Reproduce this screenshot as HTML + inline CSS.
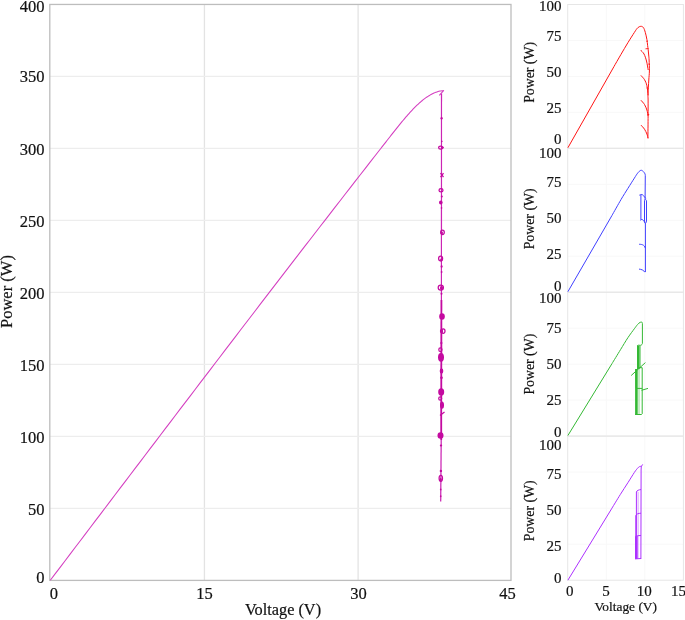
<!DOCTYPE html>
<html><head><meta charset="utf-8"><title>PV curves</title>
<style>html,body{margin:0;padding:0;background:#fff;}body{width:685px;height:620px;overflow:hidden;}svg{display:block;will-change:transform;}text{stroke:#111;stroke-width:0.2px;}</style>
</head><body>
<svg width="685" height="620" viewBox="0 0 685 620"><g stroke="#e3e3e3" stroke-width="1.3" fill="none"><line x1="204.45" y1="4.45" x2="204.45" y2="580.4"/><line x1="358.1" y1="4.45" x2="358.1" y2="580.4"/></g>
<g stroke="#ededed" stroke-width="1.3" fill="none"><line x1="49.8" y1="508.41" x2="511.0" y2="508.41"/><line x1="49.8" y1="436.41" x2="511.0" y2="436.41"/><line x1="49.8" y1="364.42" x2="511.0" y2="364.42"/><line x1="49.8" y1="292.43" x2="511.0" y2="292.43"/><line x1="49.8" y1="220.43" x2="511.0" y2="220.43"/><line x1="49.8" y1="148.44" x2="511.0" y2="148.44"/><line x1="49.8" y1="76.44" x2="511.0" y2="76.44"/></g>
<rect x="49.8" y="4.45" width="461.20" height="575.95" fill="none" stroke="#bdbdbd" stroke-width="1.3"/>
<g font-family='"Liberation Serif", serif' font-size="16.5" fill="#111"><text x="44.6" y="11.70" text-anchor="end">400</text><text x="44.6" y="82.40" text-anchor="end">350</text><text x="44.6" y="154.60" text-anchor="end">300</text><text x="44.6" y="226.80" text-anchor="end">250</text><text x="44.6" y="298.60" text-anchor="end">200</text><text x="44.6" y="370.60" text-anchor="end">150</text><text x="44.6" y="442.50" text-anchor="end">100</text><text x="44.6" y="514.60" text-anchor="end">50</text><text x="44.6" y="583.10" text-anchor="end">0</text><text x="53.85" y="598.6" text-anchor="middle">0</text><text x="204.4" y="598.6" text-anchor="middle">15</text><text x="358.5" y="598.6" text-anchor="middle">30</text><text x="507.5" y="598.6" text-anchor="middle">45</text></g>
<text x="283" y="615" text-anchor="middle" font-family='"Liberation Serif", serif' font-size="16.3" fill="#111">Voltage (V)</text>
<text transform="translate(12.0,291.55) rotate(-90)" x="0" y="0" text-anchor="middle" font-family='"Liberation Serif", serif' font-size="16.5" fill="#111">Power (W)</text>
<g stroke="#f8f8f8" stroke-width="1.0" fill="none"><line x1="606.27" y1="4.5" x2="606.27" y2="148.3"/><line x1="644.83" y1="4.5" x2="644.83" y2="148.3"/><line x1="567.7" y1="112.35" x2="683.4" y2="112.35"/><line x1="567.7" y1="76.40" x2="683.4" y2="76.40"/><line x1="567.7" y1="40.45" x2="683.4" y2="40.45"/><line x1="606.27" y1="148.3" x2="606.27" y2="292.2"/><line x1="644.83" y1="148.3" x2="644.83" y2="292.2"/><line x1="567.7" y1="256.23" x2="683.4" y2="256.23"/><line x1="567.7" y1="220.25" x2="683.4" y2="220.25"/><line x1="567.7" y1="184.28" x2="683.4" y2="184.28"/><line x1="606.27" y1="292.2" x2="606.27" y2="436.1"/><line x1="644.83" y1="292.2" x2="644.83" y2="436.1"/><line x1="567.7" y1="400.12" x2="683.4" y2="400.12"/><line x1="567.7" y1="364.15" x2="683.4" y2="364.15"/><line x1="567.7" y1="328.18" x2="683.4" y2="328.18"/><line x1="606.27" y1="436.1" x2="606.27" y2="580.2"/><line x1="644.83" y1="436.1" x2="644.83" y2="580.2"/><line x1="567.7" y1="544.18" x2="683.4" y2="544.18"/><line x1="567.7" y1="508.15" x2="683.4" y2="508.15"/><line x1="567.7" y1="472.12" x2="683.4" y2="472.12"/></g>
<g stroke="#e6e6e6" stroke-width="1" fill="none"><rect x="567.7" y="4.5" width="115.70" height="143.80"/><rect x="567.7" y="148.3" width="115.70" height="143.90"/><rect x="567.7" y="292.2" width="115.70" height="143.90"/><rect x="567.7" y="436.1" width="115.70" height="144.10"/></g>
<g font-family='"Liberation Serif", serif' font-size="15" fill="#111"><text x="561.6" y="11.00" text-anchor="end">100</text><text x="561.6" y="40.60" text-anchor="end">75</text><text x="561.6" y="76.65" text-anchor="end">50</text><text x="561.6" y="112.95" text-anchor="end">25</text><text x="561.6" y="144.15" text-anchor="end">0</text><text x="561.6" y="157.75" text-anchor="end">100</text><text x="561.6" y="186.95" text-anchor="end">75</text><text x="561.6" y="223.35" text-anchor="end">50</text><text x="561.6" y="259.25" text-anchor="end">25</text><text x="561.6" y="290.85" text-anchor="end">0</text><text x="561.6" y="303.45" text-anchor="end">100</text><text x="561.6" y="332.65" text-anchor="end">75</text><text x="561.6" y="368.95" text-anchor="end">50</text><text x="561.6" y="404.85" text-anchor="end">25</text><text x="561.6" y="436.65" text-anchor="end">0</text><text x="561.6" y="449.85" text-anchor="end">100</text><text x="561.6" y="478.95" text-anchor="end">75</text><text x="561.6" y="515.25" text-anchor="end">50</text><text x="561.6" y="551.05" text-anchor="end">25</text><text x="561.6" y="582.95" text-anchor="end">0</text><text x="569.75" y="596.4" text-anchor="middle">0</text><text x="606.1" y="596.4" text-anchor="middle">5</text><text x="644.2" y="596.4" text-anchor="middle">10</text><text x="678.6" y="596.4" text-anchor="middle">15</text></g>
<text x="625.7" y="611" text-anchor="middle" font-family='"Liberation Serif", serif' font-size="13.4" fill="#111">Voltage (V)</text>
<text transform="translate(533.9,72.4) rotate(-90)" text-anchor="middle" font-family='"Liberation Serif", serif' font-size="13.8" fill="#111">Power (W)</text>
<text transform="translate(533.9,218.85) rotate(-90)" text-anchor="middle" font-family='"Liberation Serif", serif' font-size="13.8" fill="#111">Power (W)</text>
<text transform="translate(533.9,364.15) rotate(-90)" text-anchor="middle" font-family='"Liberation Serif", serif' font-size="13.8" fill="#111">Power (W)</text>
<text transform="translate(533.9,510.8) rotate(-90)" text-anchor="middle" font-family='"Liberation Serif", serif' font-size="13.8" fill="#111">Power (W)</text>
<path d="M50.30,580.29 L55.30,573.69 L60.30,567.09 L65.30,560.49 L70.30,553.89 L75.30,547.30 L80.30,540.70 L85.30,534.10 L90.30,527.50 L95.30,520.90 L100.30,514.31 L105.30,507.71 L110.30,501.12 L115.30,494.52 L120.30,487.93 L125.30,481.34 L130.30,474.75 L135.30,468.16 L140.30,461.57 L145.30,454.99 L150.30,448.40 L155.30,441.82 L160.30,435.24 L165.30,428.66 L170.30,422.09 L175.30,415.51 L180.30,408.94 L185.30,402.37 L190.30,395.81 L195.30,389.24 L200.30,382.68 L205.30,376.12 L210.30,369.57 L215.30,363.01 L220.30,356.46 L225.30,349.92 L230.30,343.38 L235.30,336.84 L240.30,330.30 L245.30,323.77 L250.30,317.24 L255.30,310.71 L260.30,304.19 L265.30,297.68 L270.30,291.16 L275.30,284.65 L280.30,278.15 L285.30,271.65 L290.30,265.15 L295.30,258.66 L300.30,252.18 L305.30,245.69 L310.30,239.22 L315.30,232.74 L320.30,226.28 L325.30,219.82 L330.30,213.36 L335.30,206.91 L340.30,200.46 L345.30,194.02 L350.30,187.59 L355.30,181.16 L360.30,174.74 L365.30,168.32 L370.30,161.91 L375.30,155.50 L380.00,149.49 L381.00,148.21 L382.00,146.93 L383.00,145.65 L384.00,144.37 L385.00,143.10 L386.00,141.82 L387.00,140.54 L388.00,139.26 L389.00,137.99 L390.00,136.71 L391.00,135.43 L392.00,134.16 L393.00,132.89 L394.00,131.62 L395.00,130.35 L396.00,129.10 L397.00,127.84 L398.00,126.59 L399.00,125.35 L400.00,124.12 L401.00,122.90 L402.00,121.69 L403.00,120.48 L404.00,119.29 L405.00,118.11 L406.00,116.95 L407.00,115.80 L408.00,114.66 L409.00,113.54 L410.00,112.44 L411.00,111.35 L412.00,110.28 L413.00,109.23 L414.00,108.20 L415.00,107.19 L416.00,106.20 L417.00,105.24 L418.00,104.30 L419.00,103.38 L420.00,102.48 L421.00,101.62 L422.00,100.77 L423.00,99.96 L424.00,99.17 L425.00,98.42 L426.00,97.69 L427.00,96.99 L428.00,96.33 L429.00,95.69 L430.00,95.09 L431.00,94.52 L432.00,93.99 L433.00,93.50 L434.00,93.04 L435.00,92.61 L436.00,92.23 L437.00,91.88 L438.00,91.58 L439.00,91.31 L440.00,91.09 L441.00,90.90 L442.00,90.77 L443.00,90.67 L443.60,90.63 L439.3,95.3" fill="none" stroke="#d43ec0" stroke-width="1.05" stroke-linejoin="round"/>
<path d="M441.5,93.5 L441.4,300" fill="none" stroke="#cc26b4" stroke-width="1.2"/>
<path d="M441.4,300 L441.2,440" fill="none" stroke="#c40aa0" stroke-width="1.8"/>
<path d="M441.2,440 L440.7,501.5" fill="none" stroke="#cc26b4" stroke-width="1.25"/>
<g fill="#c40aa0" stroke="none"><ellipse cx="441.6" cy="118.3" rx="1.1" ry="1.3"/><ellipse cx="441.8" cy="141.4" rx="0.8" ry="0.8"/><ellipse cx="442.6" cy="147.6" rx="1.2" ry="1.2"/><ellipse cx="441.8" cy="196.4" rx="1.0" ry="1.0"/><ellipse cx="440.8" cy="202.6" rx="1.8" ry="2.0"/><ellipse cx="441.5" cy="207.9" rx="0.8" ry="1"/><ellipse cx="441.8" cy="233" rx="1.2" ry="1.4"/><ellipse cx="441.3" cy="260" rx="1.2" ry="1.5"/><ellipse cx="441.6" cy="266.5" rx="1.0" ry="1.2"/><ellipse cx="441.6" cy="272" rx="0.9" ry="1.0"/><ellipse cx="441.5" cy="288" rx="1.6" ry="2.0"/><ellipse cx="441.5" cy="293.8" rx="1.0" ry="1.0"/><ellipse cx="442.0" cy="316.5" rx="2.8" ry="3.2"/><ellipse cx="441.5" cy="331.1" rx="1.6" ry="2.2"/><ellipse cx="441.4" cy="343" rx="1.0" ry="1.2"/><ellipse cx="441.0" cy="357.3" rx="3.0" ry="4.4"/><ellipse cx="441.5" cy="371" rx="1.8" ry="2.8"/><ellipse cx="441.5" cy="377.7" rx="1.3" ry="1.2"/><ellipse cx="441.2" cy="391.9" rx="3.0" ry="3.6"/><ellipse cx="442.0" cy="405.2" rx="2.0" ry="3.6"/><ellipse cx="440.5" cy="435.5" rx="3.0" ry="3.2"/><ellipse cx="441.0" cy="445.4" rx="1.2" ry="1.0"/><ellipse cx="440.9" cy="470.9" rx="1.2" ry="1.2"/><ellipse cx="440.6" cy="479.5" rx="1.2" ry="1.6"/><ellipse cx="440.7" cy="489.5" rx="0.8" ry="1"/><ellipse cx="440.7" cy="496.3" rx="0.8" ry="1"/></g>
<g fill="none" stroke="#c40aa0" stroke-width="1.25"><ellipse cx="440.6" cy="147.6" rx="2.0" ry="1.6"/><path d="M440.5,173.1 L443.5,177.1 M443.5,173.1 L440.5,177.1"/><ellipse cx="441.0" cy="190.2" rx="2.0" ry="1.6"/><ellipse cx="442.5" cy="232.3" rx="1.8" ry="2.2"/><ellipse cx="440.6" cy="258.5" rx="2.0" ry="2.4"/><ellipse cx="440.8" cy="287.6" rx="2.6" ry="2.6"/><ellipse cx="443.2" cy="331.1" rx="1.8" ry="2.2"/><ellipse cx="440.4" cy="349.7" rx="1.6" ry="1.8"/><ellipse cx="440.2" cy="398.5" rx="1.5" ry="1.7"/><path d="M440,415.5 L444.5,412"/><ellipse cx="440.8" cy="478.3" rx="1.7" ry="3.0"/></g>
<path d="M567.9,147.75 L614,66.5  C615.13,64.53 618.48,58.67 620.80,54.70 C623.12,50.73 625.63,46.42 627.90,42.70 C630.17,38.98 632.78,34.87 634.40,32.40 C636.02,29.93 636.53,28.92 637.60,27.90 C638.67,26.88 639.83,26.35 640.80,26.30 C641.77,26.25 642.65,26.58 643.40,27.60 C644.15,28.62 644.72,30.42 645.30,32.40 C645.88,34.38 646.52,37.35 646.90,39.50 C647.28,41.65 647.38,43.58 647.60,45.30 C647.82,47.02 648.02,48.18 648.20,49.80 C648.38,51.42 648.55,53.30 648.70,55.00 C648.85,56.70 648.98,57.33 649.10,60.00 C649.22,62.67 649.45,67.67 649.40,71.00 C649.35,74.33 649.03,76.17 648.80,80.00 C648.57,83.83 648.12,90.67 648.00,94.00 C647.88,97.33 648.08,96.33 648.10,100.00 C648.12,103.67 648.13,109.62 648.10,116.00 C648.07,122.38 647.93,134.58 647.90,138.30" fill="none" stroke="#ff1414" stroke-width="1.0" stroke-linejoin="round"/>
<path d="M640.50,50.00 C641.08,50.67 643.00,52.17 644.00,54.00 C645.00,55.83 645.80,58.33 646.50,61.00 C647.20,63.67 647.92,68.50 648.20,70.00" fill="none" stroke="#ff1414" stroke-width="1.0"/>
<path d="M640.90,75.40 C641.50,76.12 643.50,77.98 644.50,79.70 C645.50,81.42 646.30,83.08 646.90,85.70 C647.50,88.32 647.90,93.78 648.10,95.40" fill="none" stroke="#ff1414" stroke-width="1.0"/>
<path d="M640.90,100.20 C641.50,100.92 643.50,102.87 644.50,104.50 C645.50,106.13 646.30,108.08 646.90,110.00 C647.50,111.92 647.90,115.00 648.10,116.00" fill="none" stroke="#ff1414" stroke-width="1.0"/>
<path d="M640.90,125.00 C641.50,125.70 643.50,127.70 644.50,129.20 C645.50,130.70 646.30,132.48 646.90,134.00 C647.50,135.52 647.90,137.58 648.10,138.30" fill="none" stroke="#ff1414" stroke-width="1.0"/>
<path d="M646.5,41.5 L648,41 M645.5,48.8 L648.5,48.6 M648.3,64 L650,64.5 M646.5,88 L648.5,88 M647.6,114.5 L649.2,114.5" stroke="#ff1414" stroke-width="0.9" fill="none"/>
<path d="M567.9,291.7 L612,215.4  C613.52,212.73 618.45,203.90 621.10,199.40 C623.75,194.90 625.68,191.95 627.90,188.40 C630.12,184.85 632.78,180.63 634.40,178.10 C636.02,175.57 636.53,174.50 637.60,173.20 C638.67,171.90 639.83,170.57 640.80,170.30 C641.77,170.03 642.70,171.00 643.40,171.60 C644.10,172.20 644.68,173.25 645.00,173.90 C645.32,174.55 645.25,175.23 645.30,175.50 L645.1,199 M645.4,223.5 L645.4,272" fill="none" stroke="#4040ff" stroke-width="1.0" stroke-linejoin="round"/>
<path d="M639.3,195.2 C640.5,194.8 641.3,194.4 641.9,194.5 C643,194.8 644,196.2 645.7,198.4 M640.9,194.8 L640.9,219.7 M640.3,220.3 C640.8,219.8 641.3,219.4 641.9,219.4 C643,219.8 644.2,221 645.4,223.5 M645.1,199 C644.6,199.8 644.5,200.5 644.5,202 L644.5,221 C644.5,222.3 645,223 645.4,223.5 M645.1,199 C646.3,199.8 646.5,200.5 646.5,202 L646.5,221 C646.5,222.3 645.8,223 645.4,223.5 M639,244.3 C641,244.2 644.6,244.5 645.3,248.2 M639,269.1 C641,269.3 643.8,270 644.8,272.2" fill="none" stroke="#4040ff" stroke-width="1.0"/>
<path d="M567.9,435.5 L612,363.6  C613.42,361.28 617.85,354.02 620.50,349.70 C623.15,345.38 625.58,341.20 627.90,337.70 C630.22,334.20 632.78,330.90 634.40,328.70 C636.02,326.50 636.63,325.57 637.60,324.50 C638.57,323.43 639.45,322.67 640.20,322.30 C640.95,321.93 641.73,322.10 642.10,322.30 C642.47,322.50 642.35,323.30 642.40,323.50 L642.4,343.5 C642.2,345 640.5,345.5 639.8,345.3" fill="none" stroke="#34b834" stroke-width="1.0"/>
<rect x="637.0" y="345.6" width="2.6" height="23.4" fill="#34b834"/>
<rect x="639.6" y="345.6" width="1.3" height="22.5" fill="#34b834" opacity="0.55"/>
<rect x="635.1" y="369" width="2.6" height="45.8" fill="#34b834"/>
<path d="M637,346 C637.5,345.2 638.5,345 639.8,345.3" stroke="#34b834" stroke-width="1.0" fill="none"/>
<path d="M639.0,367.7 L642.2,367.7 L642.2,413.8 L641.5,414.5 L635.1,414.5 M636,388.4 L642.2,388.4 M631.2,375.5 L645.4,362.6 M641.5,390.3 L648,388.4 M636.2,369 L636.2,388" fill="none" stroke="#34b834" stroke-width="1.0"/>
<path d="M639.0,368 L639.0,414.2" fill="none" stroke="#34b834" stroke-width="0.9" opacity="0.6"/>
<path d="M567.9,580.2 L612,508.1  C613.37,505.87 617.55,498.93 620.20,494.70 C622.85,490.47 625.53,486.42 627.90,482.70 C630.27,478.98 632.78,474.82 634.40,472.40 C636.02,469.98 636.75,469.17 637.60,468.20 C638.45,467.23 638.85,466.95 639.50,466.60 C640.15,466.25 640.97,466.47 641.50,466.10 C642.03,465.73 642.50,464.68 642.70,464.40 M641.3,466 L641.1,470 L640.9,558.7" fill="none" stroke="#ac30ff" stroke-width="1.0" stroke-linejoin="round"/>
<path d="M636.4,558.7 L636.4,492 C636.8,490.5 639,489.7 641,489.6 M635.8,558.7 L635.8,515.5 C636.3,514 638.5,513.3 641,513.2 M635.6,558.7 L635.6,537 C636.3,536 638,535.5 641,535.5 M635,558.9 L641.2,558.5" fill="none" stroke="#ac30ff" stroke-width="1.0"/>
<path d="M638.1,558.5 L638.1,492" fill="none" stroke="#ac30ff" stroke-width="0.9" opacity="0.5"/>
<rect x="635.2" y="535.8" width="2.6" height="22.9" fill="#ac30ff" opacity="0.85"/></svg>
</body></html>
